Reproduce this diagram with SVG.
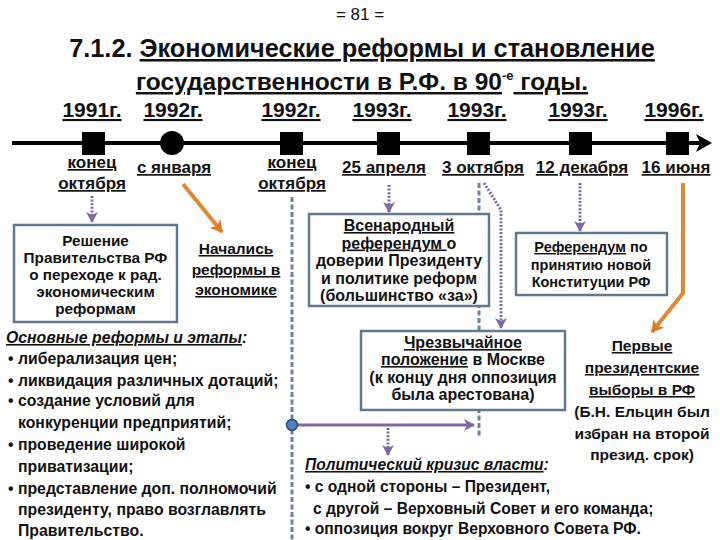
<svg xmlns="http://www.w3.org/2000/svg" width="720" height="540" viewBox="0 0 720 540">
<style>
text{font-family:"Liberation Sans",Arial,sans-serif;font-weight:bold;fill:#111}
.yr{font-size:21px;text-decoration:underline;text-anchor:middle}
.dt{font-size:17px;text-decoration:underline;text-anchor:middle}
.bx{fill:#fff;stroke:#61798f;stroke-width:2.5}
.bt{font-size:14.5px;text-anchor:middle}
.s153{font-size:15.3px}
.s155{font-size:15.5px}
.s16{font-size:16px}
.u{text-decoration:underline}
.pd{stroke:#7d68a6;stroke-width:3;stroke-dasharray:2 1.6;fill:none}
.bd{stroke:#6a84a0;stroke-width:3;stroke-dasharray:5 2.5;fill:none}
.or{stroke:#dc8a35;stroke-width:4;fill:none}
.lt{font-size:15.8px}
.lr{font-size:15.6px}
.it{font-style:italic}
</style>
<defs>
<marker id="ap" markerWidth="14" markerHeight="14" viewBox="-1 -7 13 14" refX="10" refY="0" orient="auto" markerUnits="userSpaceOnUse"><path d="M0,-6 L11,0 L0,6 L3,0Z" fill="#7d68a6"/></marker>
<marker id="ao" markerWidth="16" markerHeight="16" viewBox="-1 -8 14 16" refX="11" refY="0" orient="auto" markerUnits="userSpaceOnUse"><path d="M0,-7 L12,0 L0,7 L3,0Z" fill="#e07b22"/></marker>
</defs>
<rect width="720" height="540" fill="#fff"/>
<g id="title">
<text x="360" y="20" text-anchor="middle" style="font-weight:normal;font-size:17px">= 81 =</text>
<text x="362" y="57" text-anchor="middle" style="font-size:25.3px">7.1.2. <tspan class="u">Экономические реформы и становление</tspan></text>
<text x="362" y="90" text-anchor="middle" style="font-size:24.5px"><tspan class="u">государственности в Р.Ф. в 90</tspan><tspan style="font-size:13px" dy="-10">-е</tspan><tspan dy="10" class="u"> годы.</tspan></text>
</g>
<g id="timeline">
<line x1="12" y1="143" x2="702" y2="143" stroke="#000" stroke-width="4"/>
<polygon points="696,134 712,143 696,152 700,143" fill="#000"/>
<rect x="82" y="132" width="23" height="23" fill="#000"/>
<circle cx="172" cy="143" r="12" fill="#000"/>
<rect x="280" y="132" width="23" height="23" fill="#000"/>
<rect x="377" y="132" width="23" height="23" fill="#000"/>
<rect x="467" y="132" width="23" height="23" fill="#000"/>
<rect x="569" y="132" width="23" height="23" fill="#000"/>
<rect x="666" y="132" width="23" height="23" fill="#000"/>
<text class="yr" x="92" y="117">1991г.</text>
<text class="yr" x="173" y="117">1992г.</text>
<text class="yr" x="291" y="117">1992г.</text>
<text class="yr" x="382" y="117">1993г.</text>
<text class="yr" x="477" y="117">1993г.</text>
<text class="yr" x="578" y="117">1993г.</text>
<text class="yr" x="674" y="117">1996г.</text>
<text class="dt" x="92" y="168">конец</text>
<text class="dt" x="92" y="189">октября</text>
<text class="dt" x="174" y="173">с января</text>
<text class="dt" x="292" y="168">конец</text>
<text class="dt" x="292" y="189">октября</text>
<text class="dt" x="384" y="173">25 апреля</text>
<text class="dt" x="483" y="173">3 октября</text>
<text class="dt" x="582" y="173">12 декабря</text>
<text class="dt" x="676" y="173">16 июня</text>
</g>
<g id="connectors">
<line class="bd" x1="292" y1="197" x2="292" y2="540"/>
<line class="bd" x1="479" y1="183" x2="479" y2="436"/>
<line class="pd" x1="92" y1="196" x2="92" y2="222" marker-end="url(#ap)"/>
<line class="or" x1="183" y1="184" x2="222" y2="232" marker-end="url(#ao)"/>
<line class="pd" x1="389" y1="185" x2="389" y2="212" marker-end="url(#ap)"/>
<polyline class="pd" points="484,183 501,210 501,328" marker-end="url(#ap)"/>
<line class="pd" x1="580" y1="183" x2="580" y2="231" marker-end="url(#ap)"/>
<polyline class="or" points="683,183 683,293 652,332" marker-end="url(#ao)"/>
<line x1="292" y1="425" x2="474" y2="425" stroke="#7d68a6" stroke-width="3" marker-end="url(#ap)"/>
<line class="pd" x1="388" y1="428" x2="388" y2="455" marker-end="url(#ap)"/>
<circle cx="292" cy="425" r="5.5" fill="#4f81bd" stroke="#2c4d75" stroke-width="1.5"/>
</g>
<g id="n1">
<rect class="bx" x="14" y="225" width="163" height="97"/>
<text class="bt s153" x="95.5" y="246">Решение</text>
<text class="bt s153" x="95.5" y="263">Правительства РФ</text>
<text class="bt s153" x="95.5" y="280">о переходе к рад.</text>
<text class="bt s153" x="95.5" y="297">экономическим</text>
<text class="bt s153" x="95.5" y="314">реформам</text>
</g>
<g id="n2">
<text class="bt s155 u" x="236" y="254">Начались</text>
<text class="bt s155 u" x="236" y="275">реформы в</text>
<text class="bt s155 u" x="236" y="295">экономике</text>
</g>
<g id="n3">
<rect class="bx" x="309" y="214" width="180" height="92"/>
<text class="bt s16" x="399" y="231"><tspan class="u">Всенародный</tspan></text>
<text class="bt s16" x="399" y="248.5"><tspan class="u">референдум </tspan>о</text>
<text class="bt s16" x="399" y="266">доверии Президенту</text>
<text class="bt s16" x="399" y="283.5">и политике реформ</text>
<text class="bt s16" x="399" y="301">(большинство «за»)</text>
</g>
<g id="n4">
<rect class="bx" x="516" y="233" width="151" height="62"/>
<text class="bt" x="591" y="252"><tspan class="u">Референдум</tspan> по</text>
<text class="bt" x="591" y="270">принятию новой</text>
<text class="bt" x="591" y="287">Конституции РФ</text>
</g>
<g id="n5">
<rect class="bx" x="361" y="331" width="204" height="79"/>
<text class="bt s16" x="463" y="348"><tspan class="u">Чрезвычайное</tspan></text>
<text class="bt s16" x="463" y="365"><tspan class="u">положение</tspan> в Москве</text>
<text class="bt s16" x="463" y="383">(к концу дня оппозиция</text>
<text class="bt s16" x="463" y="400">была арестована)</text>
</g>
<g id="n6">
<text class="bt s155 u" x="642" y="351">Первые</text>
<text class="bt s155 u" x="642" y="373">президентские</text>
<text class="bt s155 u" x="642" y="395">выборы в РФ</text>
<text class="bt s155" x="642" y="417">(Б.Н. Ельцин был</text>
<text class="bt s155" x="642" y="439">избран на второй</text>
<text class="bt s155" x="642" y="460">презид. срок)</text>
</g>
<g id="n7">
<text class="lt it" x="6" y="343"><tspan class="u">Основные реформы и этапы</tspan>:</text>
<text class="lt" x="8" y="364">• либерализация цен;</text>
<text class="lt" x="8" y="386">• ликвидация различных дотаций;</text>
<text class="lt" x="8" y="406">• создание условий для</text>
<text class="lt" x="18" y="428">конкуренции предприятий;</text>
<text class="lt" x="8" y="450">• проведение широкой</text>
<text class="lt" x="18" y="472">приватизации;</text>
<text class="lt" x="8" y="494">• представление доп. полномочий</text>
<text class="lt" x="18" y="515">президенту, право возглавлять</text>
<text class="lt" x="18" y="536">Правительство.</text>
</g>
<g id="n8">
<text class="lr it" x="305" y="470"><tspan class="u">Политический кризис власти</tspan>:</text>
<text class="lr" x="305" y="492">• с одной стороны – Президент,</text>
<text class="lr" x="313" y="514">с другой – Верховный Совет и его команда;</text>
<text class="lr" x="305" y="534">• оппозиция вокруг Верховного Совета РФ.</text>
</g>
</svg>
